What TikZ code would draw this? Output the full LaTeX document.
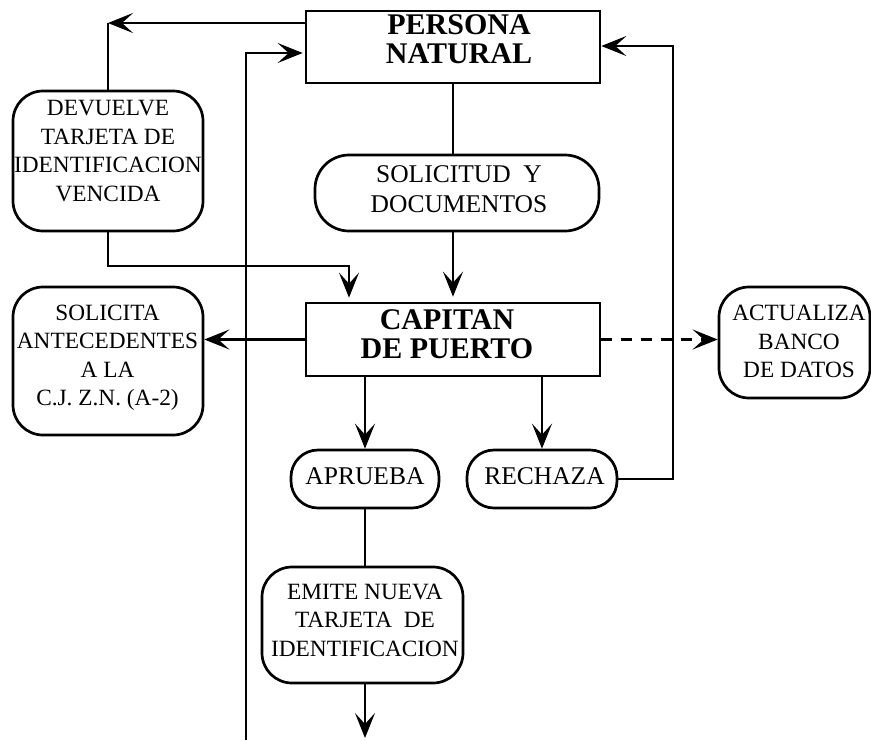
\documentclass[tikz,border=0pt]{standalone}
\usepackage{fontspec}
\setmainfont{Liberation Serif}
\usetikzlibrary{arrows.meta}
\begin{document}
\begin{tikzpicture}[x=1pt,y=-1pt,
  ln/.style={line width=2.7pt},
  arr/.style={line width=2.7pt,-{Stealth[length=25pt,width=20pt,inset=11pt]}},
  sq/.style={draw,line width=2.7pt,rectangle,inner sep=0pt},
  rd/.style={sq,rounded corners=30pt},
  tx/.style={align=center,inner sep=0pt,font=\fontsize{23.3}{28.5}\selectfont},
  txm/.style={align=center,inner sep=0pt,font=\fontsize{25.5}{30}\selectfont},
  txb/.style={align=center,inner sep=0pt,font=\fontsize{30}{29.5}\selectfont\bfseries}]
\useasboundingbox (0,0) rectangle (871,740);
% boxes
\node[sq,minimum width=294pt,minimum height=72pt] (pn) at (453,47) {};
\node[rd,rounded corners=34pt,minimum width=284pt,minimum height=76pt] (sol) at (457,193) {};
\node[rd,minimum width=190pt,minimum height=140pt] (dev) at (108,161) {};
\node[sq,minimum width=294pt,minimum height=73pt] (cp) at (453,339.5) {};
\node[rd,minimum width=190pt,minimum height=148pt] (sa) at (108,361) {};
\node[rd,minimum width=151pt,minimum height=111pt] (act) at (794.5,342.5) {};
\node[rd,rounded corners=27pt,minimum width=148pt,minimum height=58pt] (apr) at (365,479) {};
\node[rd,rounded corners=27pt,minimum width=150pt,minimum height=58pt] (rec) at (542,479) {};
\node[rd,minimum width=201pt,minimum height=116pt] (emi) at (362.5,625) {};
% texts
\node[txb] (pnt) at (459,39) {PERSONA\\NATURAL};
\node[txm] (solt) at (459,189.5) {SOLICITUD\ \ Y\\DOCUMENTOS};
\node[tx] (devt) at (108,151) {DEVUELVE\\TARJETA DE\\IDENTIFICACION\\VENCIDA};
\node[txb] (cpt) at (447,334) {CAPITAN\\DE PUERTO};
\node[tx] (sat) at (107.5,358) {SOLICITA\\ANTECEDENTES\\A LA\\C.J. Z.N. (A-2)};
\node[tx] (actt) at (799,341.5) {ACTUALIZA\\BANCO\\DE DATOS};
\node[txm] (aprt) at (365,476.5) {APRUEBA};
\node[txm] (rect) at (544.5,476.5) {RECHAZA};
\node[tx] (emit) at (365,620) {EMITE NUEVA\\TARJETA\ \ DE\\IDENTIFICACION};
% coordinates
\coordinate (c1) at (108,23);
\coordinate (bot1) at (246,740);
\coordinate (c2) at (246,53);
\coordinate (c3) at (673,479);
\coordinate (c4) at (673,46);
\coordinate (c5) at (108,266);
\coordinate (c6) at (349,266);
\coordinate (c7) at (365,738);
% connectors
\draw[arr] (pn.west |- c1) -- (c1);
\draw[ln] (c1) -- (dev.north);
\draw[arr,shorten >=2pt] (bot1) -- (c2) -- (pn.west |- c2);
\draw[arr] (rec.east) -- (c3) -- (c4) -- (pn.east |- c4);
\draw[ln] (pn.south) -- (pn.south |- sol.north);
\draw[arr,shorten >=5pt] (sol.south -| pn.south) -- (cp.north);
\draw[arr,shorten >=4pt] (dev.south) -- (c5) -- (c6) -- (c6 |- cp.north);
\draw[arr] (cp.west) -- (sa.east |- cp.west);
\draw[arr,dash pattern=on 11pt off 9pt] (cp.east) -- (act.west |- cp.east);
\draw[arr] (cp.south -| apr.north) -- (apr.north);
\draw[arr] (cp.south -| rec.north) -- (rec.north);
\draw[ln] (apr.south) -- (emi.north -| apr.south);
\draw[arr] (apr.south |- emi.south) -- (c7);
\end{tikzpicture}
\end{document}
